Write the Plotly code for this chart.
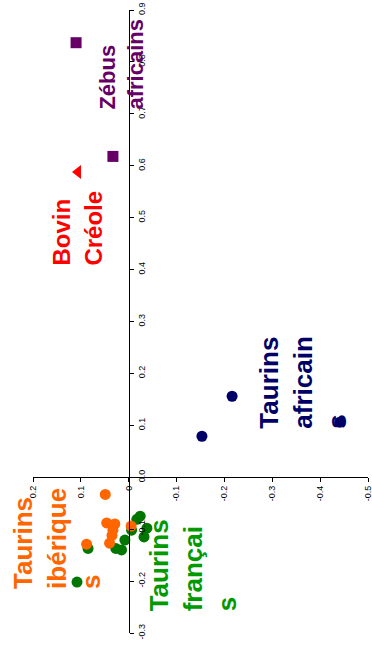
import plotly.graph_objects as go

# Data (horizontal axis value, vertical axis value) per group
zebu_x = [0.110, 0.033]
zebu_y = [0.837, 0.618]

creole_x = [0.106]
creole_y = [0.588]

taur_afr_x = [-0.153, -0.216, -0.441]
taur_afr_y = [0.079, 0.156, 0.106]

taur_fr_x = [-0.024, -0.017, -0.038, -0.032, -0.006, 0.008, 0.015, 0.027, 0.085, 0.108]
taur_fr_y = [-0.075, -0.081, -0.098, -0.115, -0.102, -0.121, -0.140, -0.137, -0.137, -0.202]

taur_ib_x = [0.049, 0.046, 0.029, 0.035, 0.040, 0.088, -0.005, 0.033]
taur_ib_y = [-0.033, -0.088, -0.090, -0.112, -0.127, -0.129, -0.094, -0.102]

x_ticks = [0.2, 0.1, 0.0, -0.1, -0.2, -0.3, -0.4, -0.5]
x_tick_text = ["0.2", "0.1", "0", "-0.1", "-0.2", "-0.3", "-0.4", "-0.5"]
y_ticks = [-0.3, -0.2, -0.1, 0.0, 0.1, 0.2, 0.3, 0.4, 0.5, 0.6, 0.7, 0.8, 0.9]
y_tick_text = ["-0.3", "-0.2", "-0.1", "0.0", "0.1", "0.2", "0.3", "0.4", "0.5", "0.6", "0.7", "0.8", "0.9"]

labels = [
    ("Taurins<br>ibérique<br>s", 0.150, -0.117, "#FF6600", 26),
    ("Taurins<br>françai<br>s", -0.134, -0.170, "#009900", 26),
    ("Taurins<br>africain<br>s", -0.364, 0.184, "#000066", 26),
    ("Bovin<br>Créole", 0.107, 0.480, "#FF0000", 24),
    ("Zébus<br>africains", 0.016, 0.795, "#660066", 22),
]

fig = go.Figure()
fig.add_trace(go.Scatter(x=taur_fr_x, y=taur_fr_y, mode="markers",
                         marker=dict(color="#007700", size=11, symbol="circle")))
fig.add_trace(go.Scatter(x=taur_ib_x, y=taur_ib_y, mode="markers",
                         marker=dict(color="#FF6600", size=11, symbol="circle")))
fig.add_trace(go.Scatter(x=taur_afr_x, y=taur_afr_y, mode="markers",
                         marker=dict(color="#000066", size=11, symbol="circle")))
fig.add_trace(go.Scatter(x=zebu_x, y=zebu_y, mode="markers",
                         marker=dict(color="#660066", size=11, symbol="square")))
fig.add_trace(go.Scatter(x=creole_x, y=creole_y, mode="markers",
                         marker=dict(color="#FF0000", size=12, symbol="triangle-left")))

for text, ax, ay, col, sz in labels:
    fig.add_annotation(x=ax, y=ay, xref="x", yref="y", text="<b>" + text + "</b>",
                       showarrow=False, textangle=-90, align="left",
                       xanchor="center", yanchor="middle",
                       font=dict(family="Liberation Sans, Arial", size=sz, color=col))

fig.update_layout(
    width=372, height=653,
    margin=dict(l=33, r=4, t=10, b=20),
    paper_bgcolor="white", plot_bgcolor="white",
    showlegend=False,
    font=dict(family="Liberation Sans, Arial", size=9, color="black"),
    xaxis=dict(range=[0.2, -0.5], anchor="free", position=0.25,
               tickvals=x_ticks, ticktext=x_tick_text, tickangle=-90,
               showline=True, linecolor="black", linewidth=1,
               ticks="outside", ticklen=4, tickcolor="black",
               ticklabeloverflow="allow",
               showgrid=False, zeroline=False, automargin=False),
    yaxis=dict(range=[-0.3, 0.9], anchor="free", position=0.2857, side="right",
               tickvals=y_ticks, ticktext=y_tick_text, tickangle=-90,
               showline=True, linecolor="black", linewidth=1,
               ticks="outside", ticklen=4, tickcolor="black",
               ticklabeloverflow="allow",
               showgrid=False, zeroline=False, automargin=False),
)

fig.write_html("out.html",
               config={"displayModeBar": False},
               post_script="document.body.style.margin='0';document.body.style.overflow='hidden';")
